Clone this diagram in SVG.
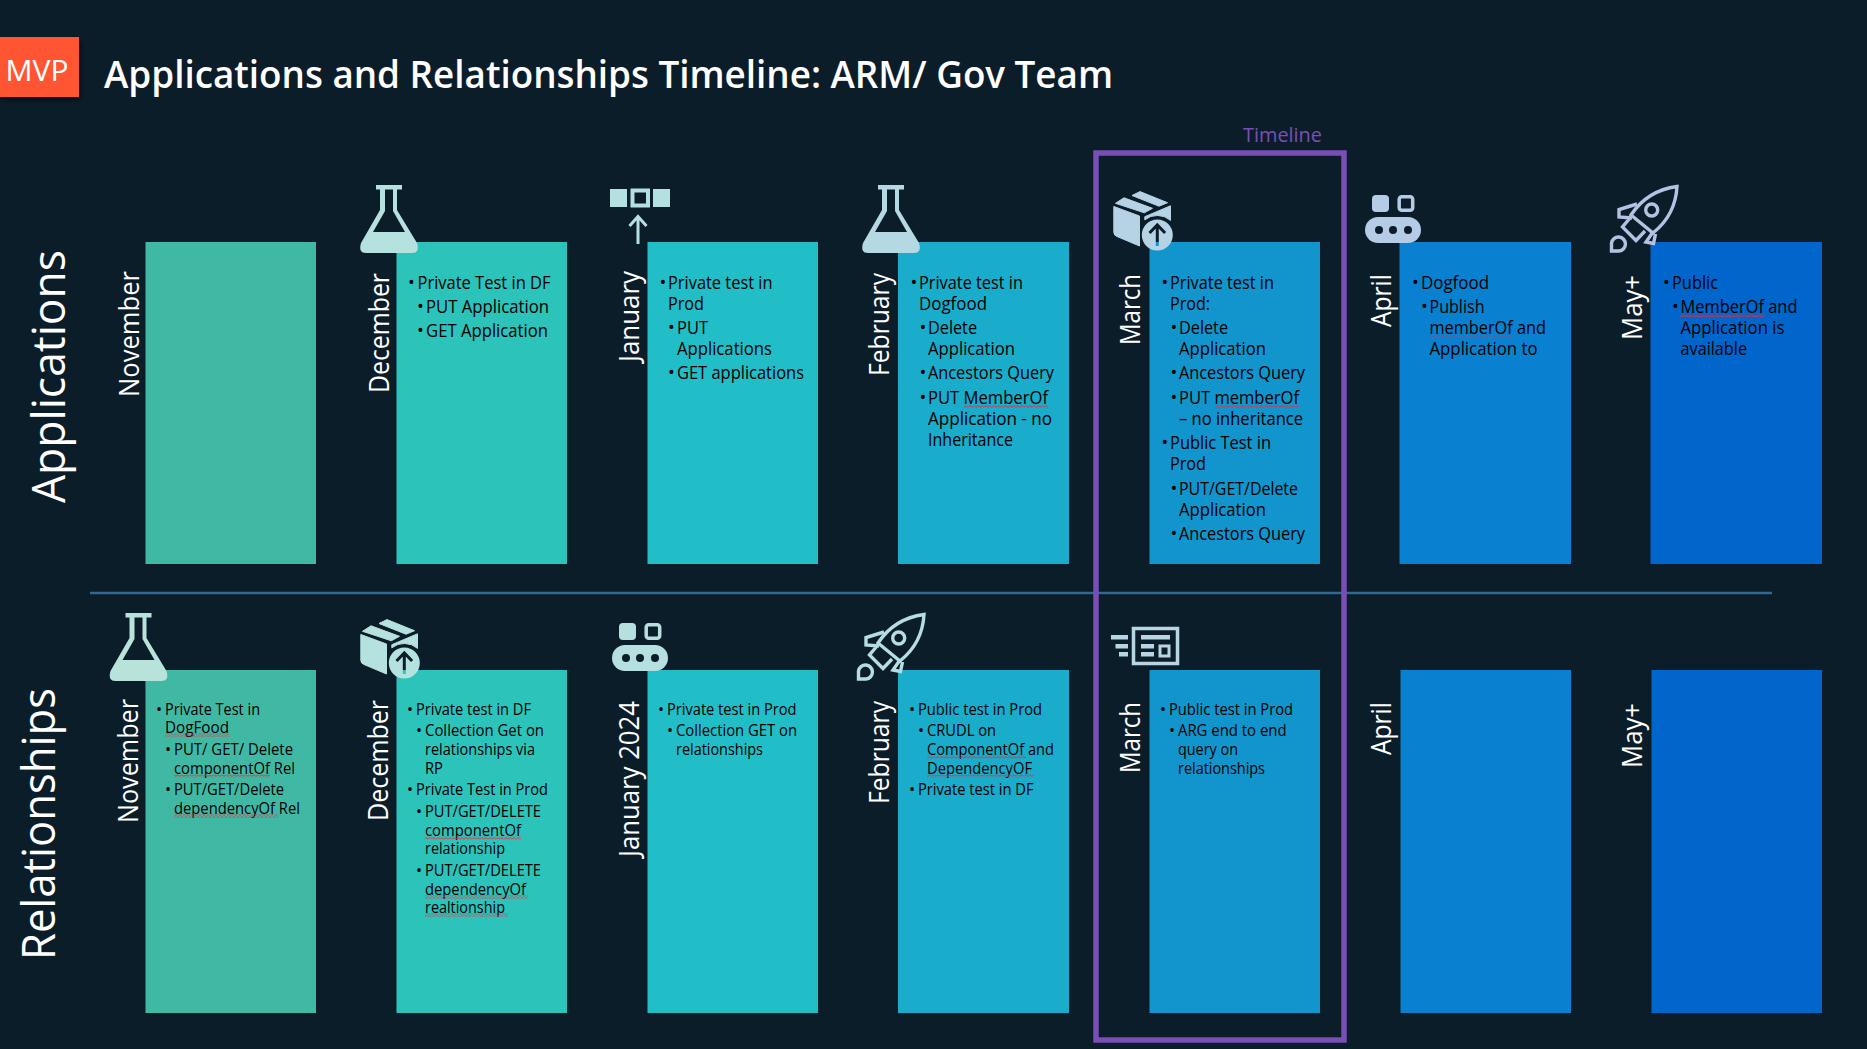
<svg xmlns="http://www.w3.org/2000/svg" width="1867" height="1049" viewBox="0 0 1867 1049">
<style>
text{font-family:"Open Sans","Noto Sans","Liberation Sans",sans-serif}
.t{font-size:18px;fill:#000}
.b{font-size:16px;fill:#000}
.m{font-size:28px;fill:#fff}
.s{font-size:46px;fill:#fff}
.sq{fill:url(#sq)}
.ln{fill:none;stroke:currentColor}
</style>
<defs>
<filter id="sh" x="-20%" y="-20%" width="140%" height="140%"><feDropShadow dx="2" dy="3" stdDeviation="3" flood-color="#000" flood-opacity=".5"/></filter>
<pattern id="sq" width="4" height="3" patternUnits="userSpaceOnUse"><path d="M0 2.4L2 .6L4 2.4" fill="none" stroke="#f02a3a" stroke-width="1"/></pattern>
<mask id="arrowcut" maskUnits="userSpaceOnUse" x="25" y="25" width="40" height="40"><rect x="25" y="25" width="40" height="40" fill="#fff"/><path d="M44.3 55V34M36.5 42L44.3 34L52.1 42" fill="none" stroke="#000" stroke-width="3"/></mask>
<symbol id="flask" viewBox="0 0 58 68" overflow="visible"><rect x="16" width="26" height="4.5" fill="currentColor"/><path fill="currentColor" fill-rule="evenodd" d="M20 4V25L1 58Q-2 68 6 68H52Q60 68 57 58L37 25V4H33V26L45 47H13L25 26V4Z"/></symbol>
<symbol id="pkg" viewBox="0 0 60 59" overflow="visible"><path fill="currentColor" stroke="currentColor" stroke-width="1" stroke-linejoin="round" d="M.8 15.5L26.5 25V55L4 45.5Q.8 44.5 .8 41ZM2.5 12.3L11 6.8L39.5 17.3L31.3 21.8ZM19 4.5L27 .6L54.5 11.7L46 15.2ZM31.8 25.7L57.5 14.8V29.4A20 20 0 0 0 31.8 28.8Z"/><circle cx="44.3" cy="44" r="15.5" fill="currentColor" mask="url(#arrowcut)"/></symbol>
<symbol id="conv" viewBox="0 0 56 48" overflow="visible"><rect x="7" width="17" height="17" rx="4" fill="currentColor"/><rect x="34.2" y="1.7" width="13.5" height="13.5" rx="2.5" fill="none" stroke="currentColor" stroke-width="3.5"/><rect y="22" width="56" height="26" rx="13" fill="currentColor"/><g fill="#0c1d2a"><circle cx="14" cy="35" r="4"/><circle cx="28" cy="35" r="4"/><circle cx="43" cy="35" r="4"/></g></symbol>
<symbol id="rocket" viewBox="0 0 68 68" overflow="visible"><g fill="none" stroke="currentColor" stroke-width="3.4"><path d="M67 1.5C48 4 33 12 21 30L43 48C58 36 66 20 67 1.5Z"/><path d="M27 19L9 24.5V32L22 33M20 33L12.5 42L26 55.5L35 46M43 47L36 57L43.5 58.5L45.5 49"/><circle cx="41.7" cy="25" r="6"/><path d="M1.5 66V58A7 7 0 1 1 9 66Z"/></g></symbol>
</defs>
<rect width="1867" height="1049" fill="#0c1d2a"/>

<g id="connectors"><line x1="90" y1="593" x2="1772" y2="593" stroke="#2f6a93" stroke-width="2.5"/></g>

<g id="mvp"><rect y="37" width="79" height="60" fill="#ff5533" filter="url(#sh)"/><text x="5.5" y="81" font-size="30" fill="#fff" textLength="63" lengthAdjust="spacingAndGlyphs">MVP</text></g>
<text id="title" x="104" y="88" font-size="38" font-weight="600" fill="#fff" textLength="1009" lengthAdjust="spacingAndGlyphs">Applications and Relationships Timeline: ARM/ Gov Team</text>
<text id="label-applications" class="s" transform="translate(65 503) rotate(-90)" textLength="253" lengthAdjust="spacingAndGlyphs">Applications</text>
<text id="label-relationships" class="s" transform="translate(55 960) rotate(-90)" textLength="272" lengthAdjust="spacingAndGlyphs">Relationships</text>

<!-- top row -->
<g id="app-nov"><rect x="145.5" y="242" width="170.5" height="322" fill="#40b9a4"/><text class="m" transform="translate(138.5 397) rotate(-90)" textLength="126" lengthAdjust="spacingAndGlyphs">November</text></g>

<g id="app-dec"><rect x="396.5" y="242" width="170.5" height="322" fill="#2cc3bb"/><text class="m" transform="translate(389 393) rotate(-90)" textLength="120" lengthAdjust="spacingAndGlyphs">December</text><use href="#flask" x="360" y="185" width="58" height="68" style="color:#b5e1de"/>
<text class="t" y="289"><tspan x="408">•</tspan><tspan x="417.5" textLength="133" lengthAdjust="spacingAndGlyphs">Private Test in DF</tspan></text>
<text class="t" y="313"><tspan x="417">•</tspan><tspan x="426" textLength="123" lengthAdjust="spacingAndGlyphs">PUT Application</tspan></text>
<text class="t" y="337"><tspan x="417">•</tspan><tspan x="426" textLength="122" lengthAdjust="spacingAndGlyphs">GET Application</tspan></text></g>

<g id="app-jan"><rect x="647.5" y="242" width="170.5" height="322" fill="#22bec7"/><text class="m" transform="translate(639 362) rotate(-90)" textLength="91" lengthAdjust="spacingAndGlyphs">January</text>
<g style="color:#b5e0e1"><rect x="610" y="189" width="17" height="18" fill="currentColor"/><rect x="632.5" y="190.5" width="15.5" height="15" fill="none" stroke="currentColor" stroke-width="4"/><rect x="653" y="189" width="17" height="18" fill="currentColor"/><path class="ln" stroke-width="3" d="M638 244V216M629.5 226L638 216.5L646.5 226"/></g>
<text class="t" y="289"><tspan x="659.5">•</tspan><tspan x="668" textLength="104.5" lengthAdjust="spacingAndGlyphs">Private test in</tspan></text>
<text class="t" x="668" y="310" textLength="36" lengthAdjust="spacingAndGlyphs">Prod</text>
<text class="t" y="334"><tspan x="668">•</tspan><tspan x="677" textLength="31" lengthAdjust="spacingAndGlyphs">PUT</tspan></text>
<text class="t" x="677" y="355" textLength="95" lengthAdjust="spacingAndGlyphs">Applications</text>
<text class="t" y="379"><tspan x="668">•</tspan><tspan x="677" textLength="127" lengthAdjust="spacingAndGlyphs">GET applications</tspan></text></g>

<g id="app-feb"><rect x="898" y="242" width="171" height="322" fill="#19accb"/><text class="m" transform="translate(889 376) rotate(-90)" textLength="103" lengthAdjust="spacingAndGlyphs">February</text><use href="#flask" x="862" y="185" width="58" height="68" style="color:#b5d9e3"/>
<text class="t" y="289"><tspan x="910.5">•</tspan><tspan x="919" textLength="104" lengthAdjust="spacingAndGlyphs">Private test in</tspan></text>
<text class="t" x="919" y="310" textLength="68" lengthAdjust="spacingAndGlyphs">Dogfood</text>
<text class="t" y="334"><tspan x="919.5">•</tspan><tspan x="928" textLength="49" lengthAdjust="spacingAndGlyphs">Delete</tspan></text>
<text class="t" x="928" y="355" textLength="87" lengthAdjust="spacingAndGlyphs">Application</text>
<text class="t" y="379"><tspan x="919.5">•</tspan><tspan x="928" textLength="126" lengthAdjust="spacingAndGlyphs">Ancestors Query</tspan></text>
<text class="t" y="404"><tspan x="919.5">•</tspan><tspan x="928" textLength="120" lengthAdjust="spacingAndGlyphs">PUT MemberOf</tspan></text>
<rect class="sq" x="964" y="405" width="84" height="3"/>
<text class="t" x="928" y="425" textLength="124" lengthAdjust="spacingAndGlyphs">Application - no</text>
<text class="t" x="928" y="446" textLength="85" lengthAdjust="spacingAndGlyphs">Inheritance</text></g>

<g id="app-mar"><rect x="1149.5" y="242" width="170.5" height="322" fill="#1295cc"/><text class="m" transform="translate(1140 345) rotate(-90)" textLength="71" lengthAdjust="spacingAndGlyphs">March</text><use href="#pkg" x="1113" y="191" width="60" height="59" style="color:#b5d3e5"/>
<text class="t" y="289"><tspan x="1161.5">•</tspan><tspan x="1170" textLength="104" lengthAdjust="spacingAndGlyphs">Private test in</tspan></text>
<text class="t" x="1170" y="310" textLength="40" lengthAdjust="spacingAndGlyphs">Prod:</text>
<text class="t" y="334"><tspan x="1170.5">•</tspan><tspan x="1179" textLength="49" lengthAdjust="spacingAndGlyphs">Delete</tspan></text>
<text class="t" x="1179" y="355" textLength="87" lengthAdjust="spacingAndGlyphs">Application</text>
<text class="t" y="379"><tspan x="1170.5">•</tspan><tspan x="1179" textLength="126" lengthAdjust="spacingAndGlyphs">Ancestors Query</tspan></text>
<text class="t" y="404"><tspan x="1170.5">•</tspan><tspan x="1179" textLength="120" lengthAdjust="spacingAndGlyphs">PUT memberOf</tspan></text>
<rect class="sq" x="1215" y="405" width="84" height="3"/>
<text class="t" x="1179" y="425" textLength="124" lengthAdjust="spacingAndGlyphs">– no inheritance</text>
<text class="t" y="449"><tspan x="1161.5">•</tspan><tspan x="1170" textLength="101" lengthAdjust="spacingAndGlyphs">Public Test in</tspan></text>
<text class="t" x="1170" y="470" textLength="36" lengthAdjust="spacingAndGlyphs">Prod</text>
<text class="t" y="495"><tspan x="1170.5">•</tspan><tspan x="1179" textLength="119" lengthAdjust="spacingAndGlyphs">PUT/GET/Delete</tspan></text>
<text class="t" x="1179" y="516" textLength="87" lengthAdjust="spacingAndGlyphs">Application</text>
<text class="t" y="540"><tspan x="1170.5">•</tspan><tspan x="1179" textLength="126" lengthAdjust="spacingAndGlyphs">Ancestors Query</tspan></text></g>

<g id="app-apr"><rect x="1399.5" y="242" width="171.5" height="322" fill="#0a80d0"/><text class="m" transform="translate(1391 327) rotate(-90)" textLength="53" lengthAdjust="spacingAndGlyphs">April</text><use href="#conv" x="1365" y="195" width="56" height="48" style="color:#b5cce6"/>
<text class="t" y="289"><tspan x="1412">•</tspan><tspan x="1421" textLength="68" lengthAdjust="spacingAndGlyphs">Dogfood</tspan></text>
<text class="t" y="313"><tspan x="1421">•</tspan><tspan x="1429.5" textLength="55" lengthAdjust="spacingAndGlyphs">Publish</tspan></text>
<text class="t" x="1429.5" y="334" textLength="116.5" lengthAdjust="spacingAndGlyphs">memberOf and</text>
<rect class="sq" x="1429.5" y="335" width="84" height="3"/>
<text class="t" x="1429.5" y="355" textLength="108" lengthAdjust="spacingAndGlyphs">Application to</text></g>

<g id="app-may"><rect x="1650.5" y="242" width="171.5" height="322" fill="#0066cc"/><text class="m" transform="translate(1642 340) rotate(-90)" textLength="65" lengthAdjust="spacingAndGlyphs">May+</text><use href="#rocket" x="1610" y="185" width="68" height="68" style="color:#b5c2e3"/>
<text class="t" y="289"><tspan x="1663">•</tspan><tspan x="1672" textLength="46" lengthAdjust="spacingAndGlyphs">Public</tspan></text>
<text class="t" y="313"><tspan x="1672">•</tspan><tspan x="1680.5" textLength="117" lengthAdjust="spacingAndGlyphs">MemberOf and</tspan></text>
<rect class="sq" x="1680.5" y="314" width="84" height="3"/>
<text class="t" x="1680.5" y="334" textLength="104" lengthAdjust="spacingAndGlyphs">Application is</text>
<text class="t" x="1680.5" y="355" textLength="66.5" lengthAdjust="spacingAndGlyphs">available</text></g>

<!-- bottom row -->
<g id="rel-nov"><rect x="145.5" y="670" width="170.5" height="343" fill="#40b9a4"/><text class="m" transform="translate(137.5 823) rotate(-90)" textLength="124" lengthAdjust="spacingAndGlyphs">November</text><use href="#flask" x="109" y="613" width="59" height="68" style="color:#b7e3da"/>
<text class="b" y="715"><tspan x="156">•</tspan><tspan x="165" textLength="95" lengthAdjust="spacingAndGlyphs">Private Test in</tspan></text>
<text class="b" x="165" y="733" textLength="64" lengthAdjust="spacingAndGlyphs">DogFood</text>
<rect class="sq" x="165" y="733.5" width="64" height="3"/>
<text class="b" y="755"><tspan x="165">•</tspan><tspan x="174" textLength="119" lengthAdjust="spacingAndGlyphs">PUT/ GET/ Delete</tspan></text>
<text class="b" x="174" y="774" textLength="121" lengthAdjust="spacingAndGlyphs">componentOf Rel</text>
<rect class="sq" x="174" y="774.5" width="96" height="3"/>
<text class="b" y="795"><tspan x="165">•</tspan><tspan x="174" textLength="110" lengthAdjust="spacingAndGlyphs">PUT/GET/Delete</tspan></text>
<text class="b" x="174" y="814" textLength="126" lengthAdjust="spacingAndGlyphs">dependencyOf Rel</text>
<rect class="sq" x="174" y="814.5" width="104" height="3"/></g>

<g id="rel-dec"><rect x="396.5" y="670" width="170.5" height="343" fill="#2cc3bb"/><text class="m" transform="translate(388 821) rotate(-90)" textLength="121" lengthAdjust="spacingAndGlyphs">December</text><use href="#pkg" x="360" y="619" width="60" height="59" style="color:#b5e1de"/>
<text class="b" y="715"><tspan x="407">•</tspan><tspan x="416" textLength="115" lengthAdjust="spacingAndGlyphs">Private test in DF</tspan></text>
<text class="b" y="736"><tspan x="416">•</tspan><tspan x="425" textLength="119" lengthAdjust="spacingAndGlyphs">Collection Get on</tspan></text>
<text class="b" x="425" y="755" textLength="110" lengthAdjust="spacingAndGlyphs">relationships via</text>
<text class="b" x="425" y="774" textLength="18" lengthAdjust="spacingAndGlyphs">RP</text>
<text class="b" y="795"><tspan x="407">•</tspan><tspan x="416" textLength="132" lengthAdjust="spacingAndGlyphs">Private Test in Prod</tspan></text>
<text class="b" y="817"><tspan x="416">•</tspan><tspan x="425" textLength="116" lengthAdjust="spacingAndGlyphs">PUT/GET/DELETE</tspan></text>
<text class="b" x="425" y="836" textLength="96" lengthAdjust="spacingAndGlyphs">componentOf</text>
<rect class="sq" x="425" y="836.5" width="96" height="3"/>
<text class="b" x="425" y="854" textLength="80" lengthAdjust="spacingAndGlyphs">relationship</text>
<text class="b" y="876"><tspan x="416">•</tspan><tspan x="425" textLength="116" lengthAdjust="spacingAndGlyphs">PUT/GET/DELETE</tspan></text>
<text class="b" x="425" y="895" textLength="101" lengthAdjust="spacingAndGlyphs">dependencyOf</text>
<rect class="sq" x="425" y="895.5" width="103" height="3"/>
<text class="b" x="425" y="913" textLength="80" lengthAdjust="spacingAndGlyphs">realtionship</text>
<rect class="sq" x="425" y="913.5" width="83" height="3"/></g>

<g id="rel-jan"><rect x="647.5" y="670" width="170.5" height="343" fill="#22bec7"/><text class="m" transform="translate(639 857) rotate(-90)" textLength="156" lengthAdjust="spacingAndGlyphs">January 2024</text><use href="#conv" x="612" y="623" width="56" height="48" style="color:#b6e0e0"/>
<text class="b" y="715"><tspan x="658">•</tspan><tspan x="667" textLength="129.5" lengthAdjust="spacingAndGlyphs">Private test in Prod</tspan></text>
<text class="b" y="736"><tspan x="667">•</tspan><tspan x="676" textLength="121" lengthAdjust="spacingAndGlyphs">Collection GET on</tspan></text>
<text class="b" x="676" y="755" textLength="87" lengthAdjust="spacingAndGlyphs">relationships</text></g>

<g id="rel-feb"><rect x="898" y="670" width="171" height="343" fill="#19accb"/><text class="m" transform="translate(889 804) rotate(-90)" textLength="103" lengthAdjust="spacingAndGlyphs">February</text><use href="#rocket" x="857" y="613" width="68" height="68" style="color:#b5dde2"/>
<text class="b" y="715"><tspan x="909">•</tspan><tspan x="918" textLength="124" lengthAdjust="spacingAndGlyphs">Public test in Prod</tspan></text>
<text class="b" y="736"><tspan x="918">•</tspan><tspan x="927" textLength="69" lengthAdjust="spacingAndGlyphs">CRUDL on</tspan></text>
<text class="b" x="927" y="755" textLength="127" lengthAdjust="spacingAndGlyphs">ComponentOf and</text>
<rect class="sq" x="927" y="755.5" width="99" height="3"/>
<text class="b" x="927" y="774" textLength="105" lengthAdjust="spacingAndGlyphs">DependencyOF</text>
<rect class="sq" x="927" y="774.5" width="107" height="3"/>
<text class="b" y="795"><tspan x="909">•</tspan><tspan x="918" textLength="115.6" lengthAdjust="spacingAndGlyphs">Private test in DF</tspan></text></g>

<g id="rel-mar"><rect x="1149.5" y="670" width="170.5" height="343" fill="#1295cc"/><text class="m" transform="translate(1140 773) rotate(-90)" textLength="71" lengthAdjust="spacingAndGlyphs">March</text>
<g style="color:#b7d5e3" fill="currentColor"><rect x="1133.5" y="628.5" width="44" height="35" fill="none" stroke="currentColor" stroke-width="3.5"/><rect x="1141" y="635" width="29" height="4.5"/><rect x="1141" y="644" width="13" height="4.5"/><rect x="1141" y="652" width="13" height="4.5"/><rect x="1160" y="646" width="9" height="10" fill="none" stroke="currentColor" stroke-width="3"/><rect x="1111" y="635" width="17" height="4.5"/><rect x="1115.5" y="644" width="12.5" height="4.5"/><rect x="1119" y="652" width="9" height="4.5"/></g>
<text class="b" y="715"><tspan x="1160">•</tspan><tspan x="1169" textLength="124" lengthAdjust="spacingAndGlyphs">Public test in Prod</tspan></text>
<text class="b" y="736"><tspan x="1169">•</tspan><tspan x="1178" textLength="108.5" lengthAdjust="spacingAndGlyphs">ARG end to end</tspan></text>
<text class="b" x="1178" y="755" textLength="60" lengthAdjust="spacingAndGlyphs">query on</text>
<text class="b" x="1178" y="774" textLength="87" lengthAdjust="spacingAndGlyphs">relationships</text></g>

<g id="rel-apr"><rect x="1400.5" y="670" width="170.5" height="343" fill="#0a80d0"/><text class="m" transform="translate(1391 755) rotate(-90)" textLength="53" lengthAdjust="spacingAndGlyphs">April</text></g>
<g id="rel-may"><rect x="1651.5" y="670" width="170.5" height="343" fill="#0066cc"/><text class="m" transform="translate(1642 768) rotate(-90)" textLength="65" lengthAdjust="spacingAndGlyphs">May+</text></g>

<g id="timeline"><rect x="1096" y="153" width="248" height="887" fill="none" stroke="#7a4fb5" stroke-width="5.5"/><text x="1243" y="142" font-size="20" fill="#7a4fb5" textLength="79" lengthAdjust="spacingAndGlyphs">Timeline</text></g>
</svg>
